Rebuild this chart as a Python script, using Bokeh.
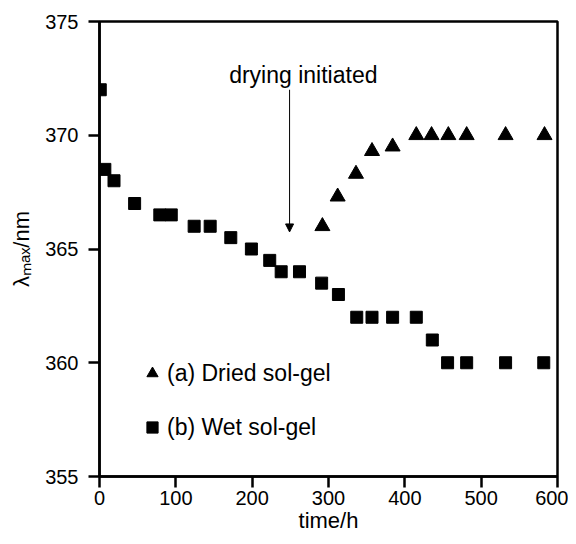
from bokeh.plotting import figure
from bokeh.models import Range1d, Label, Arrow, NormalHead, Legend, LegendItem, FixedTicker
from bokeh.embed import file_html
from bokeh.resources import INLINE

# ---- data ----
wet_time = [1, 7, 19, 46, 79, 94, 124, 145, 172, 199, 223, 238, 262, 291, 313, 337, 357, 384, 415, 436, 456, 481, 532, 582]
wet_lambda = [372, 368.5, 368, 367, 366.5, 366.5, 366, 366, 365.5, 365, 364.5, 364, 364, 363.5, 363, 362, 362, 362, 362, 361, 360, 360, 360, 360]
dry_time = [292, 312, 336, 357, 384, 415, 435, 457, 481, 532, 583]
dry_lambda = [366, 367.3, 368.3, 369.3, 369.5, 370, 370, 370, 370, 370, 370]
x_ticks = [0, 100, 200, 300, 400, 500, 600]
y_ticks = [355, 360, 365, 370, 375]
label_dry = "(a) Dried sol-gel"
label_wet = "(b) Wet sol-gel"
annot_text = "drying initiated"
annot_time = 267
annot_lambda = 372.63
arrow_time = 249
arrow_from = 372.0
arrow_to = 365.75
x_title = "time/h"
y_title = "\u03bb\u2098\u2090\u2093/nm"

FONT = "Liberation Sans"

p = figure(width=568, height=536, output_backend="svg", toolbar_location=None,
           x_range=Range1d(0, 600), y_range=Range1d(355, 375),
           min_border_left=99, min_border_right=11, min_border_top=21, min_border_bottom=60)
p.grid.visible = False
p.background_fill_color = "white"
p.border_fill_color = "white"
p.outline_line_color = "black"
p.outline_line_width = 2.5

for ax, ticks in ((p.xaxis[0], x_ticks), (p.yaxis[0], y_ticks)):
    ax.ticker = FixedTicker(ticks=ticks)
    ax.axis_line_color = "black"
    ax.axis_line_width = 2.5
    ax.major_tick_line_color = "black"
    ax.major_tick_line_width = 2.5
    ax.major_tick_out = 11
    ax.major_tick_in = 0
    ax.minor_tick_line_color = None
    ax.major_label_text_font = FONT
    ax.major_label_text_font_size = "20px"
    ax.major_label_text_color = "black"
    ax.axis_label_text_font = FONT
    ax.axis_label_text_font_style = "normal"
    ax.axis_label_text_color = "black"
    ax.axis_label_text_font_size = "22px"

p.xaxis.major_label_standoff = 3
p.xaxis.axis_label = x_title
p.xaxis.axis_label_standoff = 0
p.yaxis.major_label_standoff = 10
p.yaxis.axis_label = y_title
p.yaxis.axis_label_standoff = 8

r_dry = p.scatter(dry_time, dry_lambda, marker="triangle", size=15, color="black")
r_wet = p.scatter(wet_time, wet_lambda, marker="square", size=12, color="black")

legend = Legend(items=[LegendItem(label=label_dry, renderers=[r_dry]),
                       LegendItem(label=label_wet, renderers=[r_wet])],
                location=(39, 35), padding=0, margin=0, spacing=26,
                glyph_width=28, glyph_height=28, label_height=28, label_standoff=1,
                label_text_font=FONT, label_text_font_size="23px", label_text_color="black",
                border_line_color=None, background_fill_alpha=0)
p.add_layout(legend)

p.add_layout(Label(x=annot_time, y=annot_lambda, text=annot_text, text_align="center",
                   text_baseline="alphabetic", text_font=FONT, text_font_size="23px",
                   text_color="black"))
p.add_layout(Arrow(x_start=arrow_time, y_start=arrow_from, x_end=arrow_time, y_end=arrow_to,
                   line_width=1, line_color="black",
                   end=NormalHead(size=8, fill_color="black", line_color="black")))

open("out.html", "w").write(file_html(p, INLINE))
